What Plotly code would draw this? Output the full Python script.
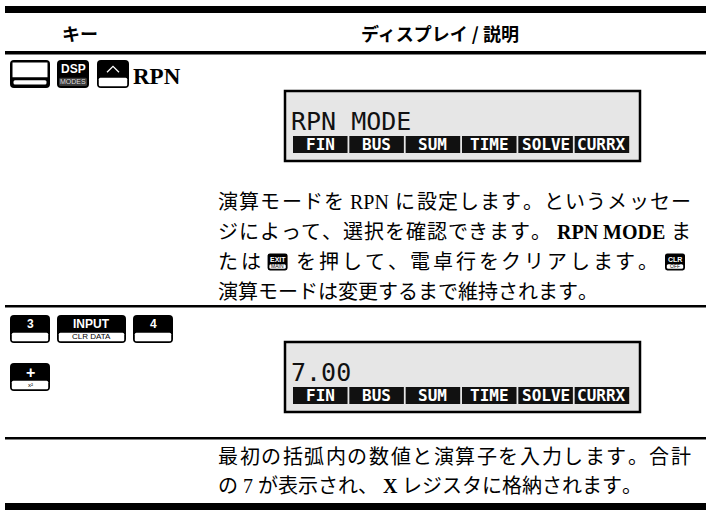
import plotly.graph_objects as go

# ---------------- content ----------------
HEADERS = ["キー", "ディスプレイ / 説明"]
ROW1_KEYS = [("", "", "blank"), ("DSP", "MODES", "dark"), ("^", "", "std")]
ROW1_LABEL = "RPN"
ROW2_KEYS = [("3", "", "std"), ("INPUT", "CLR DATA", "std"), ("4", "", "std")]
ROW2B_KEYS = [("+", "x²", "std")]
LCD_LINES = ["RPN MODE", "7.00"]
SOFTKEYS = ["FIN", "BUS", "SUM", "TIME", "SOLVE", "CURRX"]
DESC1 = [
    [("t", "演算モードを"), ("l", "RPN"), ("t", "に設定します。というメッセー")],
    [("t", "ジによって、選択を確認できます。"), ("b", "RPN MODE"), ("t", "ま")],
    [("t", "たは"), ("k", "EXIT", "MAIN"), ("t", "を押して、電卓行をクリアします。"), ("k", "CLR", "OFF")],
    [("t", "演算モードは変更するまで維持されます。")],
]
DESC1_JUSTIFY = [True, True, True, False]
DESC2 = [
    [("t", "最初の括弧内の数値と演算子を入力します。合計")],
    [("t", "の"), ("l", "7"), ("t", "が表示され、"), ("b", "X"), ("t", "レジスタに格納されます。")],
]
DESC2_JUSTIFY = [True, False]

# ---------------- layout helpers ----------------
W, H = 706, 510
shapes = []
annos = []
SERIF_CJK = "Liberation Serif, Noto Sans CJK JP"
SANS = "Liberation Sans, Arial"
MONO = "DejaVu Sans Mono"

REG = {"R": .667, "P": .556, "N": .722, "7": .5, "X": .722, " ": .25,
       "M": .889, "O": .722, "D": .722, "E": .611}
BOLD = {"R": .722, "P": .611, "N": .722, "7": .5, "X": .722, " ": .25,
        "M": .944, "O": .778, "D": .722, "E": .667}


def rr(x0, y0, x1, y1, r):
    return (f"M{x0+r},{y0} L{x1-r},{y0} Q{x1},{y0} {x1},{y0+r} L{x1},{y1-r} "
            f"Q{x1},{y1} {x1-r},{y1} L{x0+r},{y1} Q{x0},{y1} {x0},{y1-r} "
            f"L{x0},{y0+r} Q{x0},{y0} {x0+r},{y0} Z")


def rect(x0, y0, x1, y1, color="black", line=None, lw=0):
    shapes.append(dict(type="rect", xref="x", yref="y", x0=x0, y0=y0, x1=x1, y1=y1,
                       fillcolor=color, line=dict(color=line or color, width=lw)))


def path(p, fill="black", line="black", lw=0):
    shapes.append(dict(type="path", xref="x", yref="y", path=p, fillcolor=fill,
                       line=dict(color=line, width=lw)))


def text(x, y, s, size, color="black", family=SERIF_CJK, xanchor="center", bold=False):
    if bold:
        s = f"<b>{s}</b>"
    annos.append(dict(x=x, y=y, xref="x", yref="y", text=s, showarrow=False,
                      xanchor=xanchor, yanchor="middle", borderpad=0,
                      font=dict(size=size, color=color, family=family)))


def key(x0, y0, w, h, top, bot, style, top_fs=12, bot_fs=8):
    x1, y1 = x0 + w, y0 + h
    r = max(2, h * 0.14)
    path(rr(x0, y0, x1, y1, r))
    cx = x0 + w / 2
    if style == "blank":
        rect(x0 + 2.5, y0 + 2.5, x1 - 2.5, y0 + h * 0.62, "white")
        path(rr(x0 + 3.5, y0 + h * 0.72, x1 - 3.5, y1 - 3.5, 1.5), "white", "white")
        return
    split = y0 + h * 0.63
    if style == "std":
        path(rr(x0 + 1.8, split, x1 - 1.8, y1 - 1.8, 1.5), "white", "white")
        bcol = "black"
    else:
        path(rr(x0 + 2, split, x1 - 2, y1 - 2, 1.5), "#3a3a3a", "#3a3a3a")
        bcol = "#dddddd"
    ty = (y0 + split) / 2 + 0.5
    if top == "^":
        shapes.append(dict(type="path", xref="x", yref="y",
                           path=f"M{cx-6},{ty+3} L{cx},{ty-3} L{cx+6},{ty+3}",
                           line=dict(color="white", width=1.3)))
    elif top:
        text(cx, ty, top, top_fs, "white", SANS, bold=True)
    if bot:
        text(cx, (split + y1 - 1.8) / 2, bot, bot_fs, bcol, SANS)


# ---------------- rules ----------------
rect(5, 6, W, 13)
rect(5, 51, W, 54.5)
rect(5, 305, W, 307.5)
rect(5, 437, W, 439.5)
rect(5, 503, W, 510)

# ---------------- header ----------------
text(80, 33, HEADERS[0], 18, family="Noto Sans CJK JP", bold=True)
text(440, 33, HEADERS[1], 18, family="Noto Sans CJK JP", bold=True)

# ---------------- keys column ----------------
row1_x = [(10, 40), (57, 32), (97, 32)]
for (x0, w), (t, b, st) in zip(row1_x, ROW1_KEYS):
    key(x0, 60, w, 28, t, b, st, top_fs=12, bot_fs=7)
text(132, 76, ROW1_LABEL, 23, family="Liberation Serif", xanchor="left", bold=True)

row2_x = [(10, 40), (57, 69), (133, 40)]
for (x0, w), (t, b, st) in zip(row2_x, ROW2_KEYS):
    key(x0, 315, w, 28, t, b, st, top_fs=12, bot_fs=8)
for (t, b, st) in ROW2B_KEYS:
    key(10, 363, 40, 28, t, b, st, top_fs=16, bot_fs=6)

# ---------------- LCD panels ----------------
def lcd(top, line):
    rect(285, top, 640, top + 70, "#e6e6e6", "black", 2.5)
    text(290, top + 30, line, 25, "#111111", MONO, xanchor="left")
    n = len(SOFTKEYS)
    x_start, x_end = 293, 631
    sw = (x_end - x_start) / n
    for i, lab in enumerate(SOFTKEYS):
        a = x_start + i * sw
        rect(a, top + 45, a + sw - 1.8, top + 62, "#111111")
        text(a + (sw - 1.8) / 2, top + 53.5, lab, 16, "white", MONO, bold=True)


lcd(91, LCD_LINES[0])
lcd(342, LCD_LINES[1])

# ---------------- descriptions ----------------
FS = 20
X0, X1 = 217, 690
KW, KH = 20, 17


def units_of(tokens):
    us = []
    for tok in tokens:
        k = tok[0]
        if k == "t":
            for ch in tok[1]:
                us.append(dict(k="c", s=ch, w=FS, pad=0))
        elif k in ("l", "b"):
            tbl = BOLD if k == "b" else REG
            w = sum(tbl.get(c, .6) for c in tok[1]) * FS
            us.append(dict(k=k, s=tok[1], w=w, pad=FS * 0.25))
        else:
            us.append(dict(k="k", s=(tok[1], tok[2]), w=KW, pad=FS * 0.25))
    return us


def paragraph(lines, justify, y_first, dy):
    for i, (toks, jus) in enumerate(zip(lines, justify)):
        y = y_first + i * dy
        us = units_of(toks)
        nat = sum(u["w"] + 2 * u["pad"] for u in us)
        extra = (X1 - X0 - nat) / (len(us) - 1) if (jus and len(us) > 1) else 0
        x = X0
        for u in us:
            x += u["pad"]
            if u["k"] == "c":
                text(x, y, u["s"], FS, xanchor="left")
            elif u["k"] in ("l", "b"):
                text(x, y, u["s"], FS, family="Liberation Serif", xanchor="left",
                     bold=(u["k"] == "b"))
            else:
                key(x, y - KH / 2, KW, KH, u["s"][0], u["s"][1], "std", top_fs=7, bot_fs=5)
            x += u["w"] + u["pad"] + extra


paragraph(DESC1, DESC1_JUSTIFY, 202, 30)
paragraph(DESC2, DESC2_JUSTIFY, 457, 29)

# ---------------- figure ----------------
fig = go.Figure(go.Scatter(x=[], y=[], showlegend=False))
fig.update_layout(
    width=W, height=H, margin=dict(l=0, r=0, t=0, b=0),
    paper_bgcolor="white", plot_bgcolor="white",
    xaxis=dict(range=[0, W], visible=False, fixedrange=True),
    yaxis=dict(range=[H, 0], visible=False, fixedrange=True),
    shapes=shapes, annotations=annos, showlegend=False,
)
fig.write_html("out.html", config={"displayModeBar": False},
               post_script="document.body.style.margin='0px';document.body.style.overflow='hidden';")
